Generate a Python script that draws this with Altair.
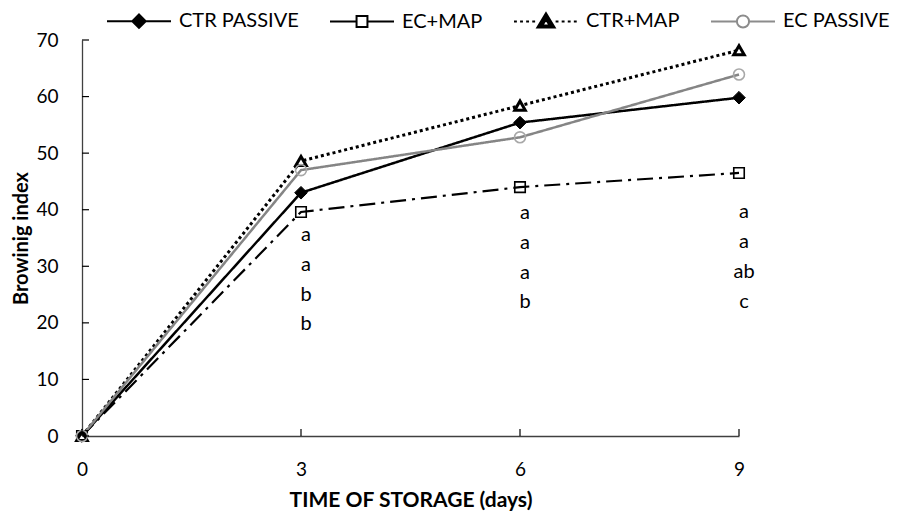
import altair as alt
import pandas as pd

days = [0, 3, 6, 9]
series_names = ["CTR PASSIVE", "EC+MAP", "CTR+MAP", "EC PASSIVE"]
ctr_passive = [0, 43.0, 55.4, 59.8]
ec_map = [0, 39.6, 44.0, 46.5]
ctr_map = [0, 48.6, 58.4, 68.2]
ec_passive = [0, 47.0, 52.8, 63.9]

letter_day = [3, 3, 3, 3, 6, 6, 6, 6, 9, 9, 9, 9]
letter_y = [34.5, 29.2, 23.9, 18.7, 38.3, 33.0, 27.7, 22.6, 38.5, 33.2, 27.9, 22.6]
letter_txt = ["a", "a", "b", "b", "a", "a", "a", "b", "a", "a", "ab", "c"]

y_ticks = [0, 10, 20, 30, 40, 50, 60, 70]

FONT = "Lato"

rows = []
for name, vals in zip(series_names, [ctr_passive, ec_map, ctr_map, ec_passive]):
    for d, v in zip(days, vals):
        rows.append({"series": name, "day": d, "value": v})
df = pd.DataFrame(rows)
letters_df = pd.DataFrame({"day": letter_day, "value": letter_y, "label": letter_txt})
yt_df = pd.DataFrame({"value": y_ticks})
xt_df = pd.DataFrame({"day": days})

xscale = alt.Scale(domain=[0, 9], nice=False, zero=False)
yscale = alt.Scale(domain=[0, 70], nice=False)

xaxis = alt.Axis(values=days, title="TIME OF STORAGE (days)", grid=False, tickSize=0,
                 labelPadding=24, labelFontSize=19, labelFont=FONT, labelColor="#000",
                 labelFlush=False, labelOverlap=False,
                 titleFont=FONT, titleFontSize=21, titleFontWeight="bold", titleColor="#000",
                 titlePadding=10, domainColor="#404040", domainWidth=1.3)
yaxis = alt.Axis(values=y_ticks, title="Browinig index", grid=False, tickSize=0,
                 labelPadding=24, labelFontSize=19, labelFont=FONT, labelColor="#000",
                 labelFlush=False, labelOverlap=False,
                 titleFont=FONT, titleFontSize=20, titleFontWeight="bold", titleColor="#000",
                 titlePadding=4, domainColor="#404040", domainWidth=1.3)

X = alt.X("day:Q", scale=xscale, axis=xaxis)
Y = alt.Y("value:Q", scale=yscale, axis=yaxis)

line_styles = {
    "CTR PASSIVE": dict(color="#000000", strokeWidth=2.5, strokeDash=[1, 0]),
    "EC+MAP": dict(color="#000000", strokeWidth=2.2, strokeDash=[16, 6, 3, 6]),
    "CTR+MAP": dict(color="#000000", strokeWidth=3, strokeDash=[3, 3]),
    "EC PASSIVE": dict(color="#858585", strokeWidth=2.5, strokeDash=[1, 0]),
}
point_styles = {
    "CTR PASSIVE": dict(shape="diamond", size=160, fill="#000000", stroke="#000000", strokeWidth=1),
    "EC+MAP": dict(shape="square", size=110, fill="transparent", stroke="#000000", strokeWidth=1.6),
    "CTR+MAP": dict(shape="triangle-up", size=110, fill="#ffffff", stroke="#000000", strokeWidth=3),
    "EC PASSIVE": dict(shape="circle", size=120, fill="transparent", stroke="#a8a8a8", strokeWidth=1.6),
}

layers = []
base = alt.Chart(df)
for name in series_names:
    ls = line_styles[name]
    layers.append(
        base.transform_filter(alt.datum.series == name).mark_line(
            color=ls["color"], strokeWidth=ls["strokeWidth"], strokeDash=ls["strokeDash"]
        ).encode(x=X, y=Y)
    )
for name in series_names:
    ps = point_styles[name]
    layers.append(
        base.transform_filter(alt.datum.series == name).mark_point(
            shape=ps["shape"], size=ps["size"], fill=ps["fill"], stroke=ps["stroke"],
            strokeWidth=ps["strokeWidth"], opacity=1, filled=False
        ).encode(x=X, y=Y)
    )

# inward ticks
layers.append(
    alt.Chart(yt_df).mark_rule(color="#000", strokeWidth=1.2).encode(
        y=Y, x=alt.value(0), x2=alt.value(7)
    )
)
layers.append(
    alt.Chart(xt_df).mark_rule(color="#000", strokeWidth=1.2).encode(
        x=X, y=alt.value(396), y2=alt.value(389)
    )
)

# letters
layers.append(
    alt.Chart(letters_df).mark_text(font=FONT, fontSize=20, color="#000", dx=5,
                                    align="center", baseline="alphabetic").encode(
        x=X, y=Y, text="label:N",
    )
)

# legend symbol paths (style only)
def dots(a, b, length=0.09, period=0.19):
    s = ""
    x = a
    while x + length <= b + 1e-9:
        s += f"M{x:.3f},0H{x + length:.3f}"
        x += period
    return s

p_diamond = "M-1,0H-0.2M0,-0.21L0.21,0L0,0.21L-0.21,0ZM0.2,0H1"
p_square = "M-1,0H-0.17M-0.17,-0.17H0.17V0.17H-0.17ZM0.17,0H1"
p_triangle = dots(-1, -0.3) + "M0,-0.26L0.27,0.19L-0.27,0.19ZM0,-0.06L-0.12,0.13L0.12,0.13Z" + dots(0.3, 1)
p_circle = "M-1,0H-0.19M-0.19,0A0.19,0.19 0 1,0 0.19,0A0.19,0.19 0 1,0 -0.19,0M0.19,0H1"

legend = alt.Legend(orient="none", direction="horizontal", legendX=24, legendY=-52,
                    title=None, labelFont=FONT, labelFontSize=20, labelColor="#000",
                    symbolSize=4096, symbolStrokeWidth=2, labelOffset=7, columnPadding=27,
                    symbolOpacity=1)
dom = series_names
layers.append(
    base.transform_filter("datum.day < 0").mark_point(opacity=1).encode(
        x=X, y=Y,
        shape=alt.Shape("series:N", scale=alt.Scale(domain=dom, range=[p_diamond, p_square, p_triangle, p_circle]), legend=legend),
        stroke=alt.Stroke("series:N", scale=alt.Scale(domain=dom, range=["#000000", "#000000", "#000000", "#8c8c8c"]), legend=legend),
        fill=alt.Fill("series:N", scale=alt.Scale(domain=dom, range=["#000000", "#ffffff", "#000000", "#ffffff"]), legend=legend),
    )
)

chart = alt.layer(*layers).properties(
    width=657, height=396,
    autosize=alt.AutoSizeParams(type="none"),
    padding={"left": 74, "top": 32, "right": 151, "bottom": 76},
).configure_view(stroke=None)

chart.save("out.html", embed_options={"renderer": "svg", "actions": False})
